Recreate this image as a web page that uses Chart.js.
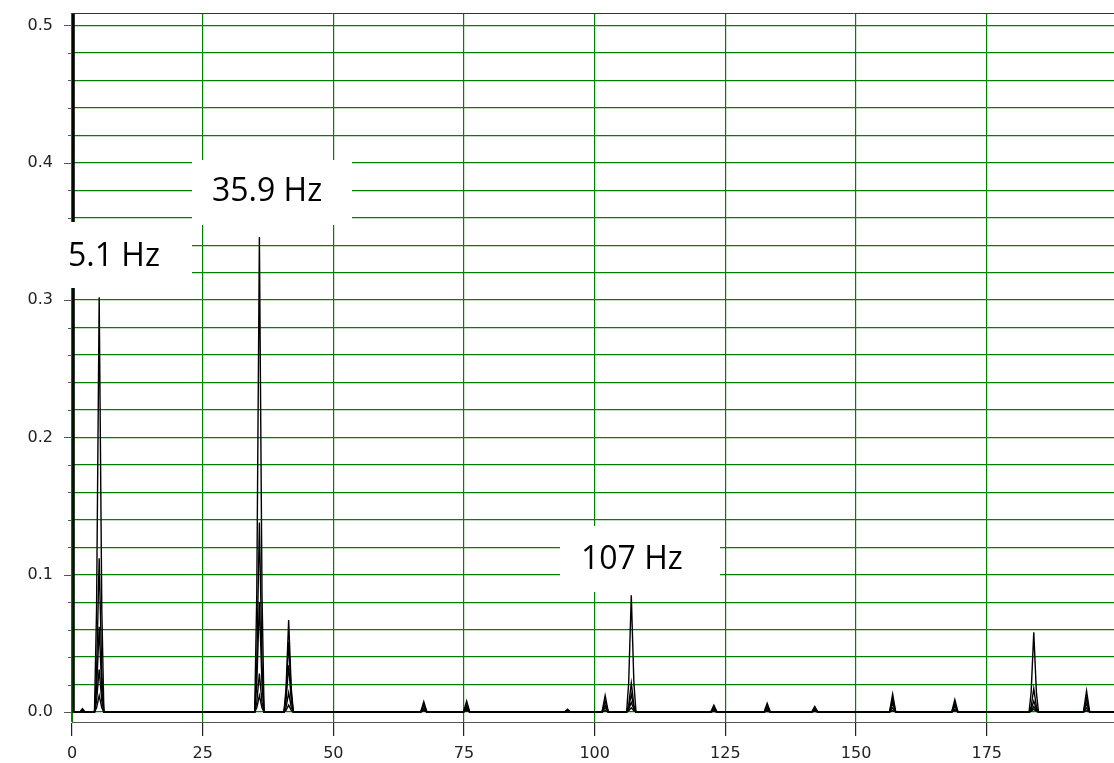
<!DOCTYPE html>
<html>
<head>
<meta charset="utf-8">
<script src="https://cdn.jsdelivr.net/npm/chart.js@4.4.1/dist/chart.umd.min.js"></script>
<style>
  html, body { margin: 0; padding: 0; background: #fff; }
  #wrap { width: 1114px; height: 763px; position: relative; }
</style>
</head>
<body>
<div id="wrap"><canvas id="spec"></canvas></div>
<script>
// frequency points (Hz), shared by every trace
const freqs = [
  0.2, 0.3, 1.5, 2.0, 2.5,
  4.3, 4.7, 5.2, 5.7, 6.1,
  34.95, 35.35, 35.85, 36.35, 36.75,
  40.55, 40.95, 41.45, 41.95, 42.35,
  66.7, 67.3, 67.9,
  74.9, 75.5, 76.1,
  94.2, 94.8, 95.4,
  101.4, 102.0, 102.6,
  106.1, 106.5, 107.0, 107.5, 107.9,
  122.2, 122.8, 123.4,
  132.4, 133.0, 133.6,
  141.5, 142.1, 142.7,
  156.4, 157.0, 157.6,
  168.3, 168.9, 169.5,
  183.1, 183.5, 184.0, 184.5, 184.9,
  193.5, 194.1, 194.7,
  199.4
];

// amplitude of each trace at the points above
const trace1 = [
  0.9, 0, 0, 0.0025, 0,
  0, 0.075, 0.302, 0.075, 0,
  0, 0.086, 0.346, 0.086, 0,
  0, 0.017, 0.067, 0.017, 0,
  0, 0.0075, 0,
  0, 0.008, 0,
  0, 0.002, 0,
  0, 0.012, 0,
  0, 0.021, 0.085, 0.021, 0,
  0, 0.005, 0,
  0, 0.0063, 0,
  0, 0.004, 0,
  0, 0.013, 0,
  0, 0.009, 0,
  0, 0.0145, 0.058, 0.0145, 0,
  0, 0.0155, 0,
  0
];
const trace2 = [
  0.9, 0, 0, 0.001, 0,
  0, 0.028, 0.112, 0.028, 0,
  0, 0.035, 0.138, 0.035, 0,
  0, 0.013, 0.051, 0.013, 0,
  0, 0.005, 0,
  0, 0.005, 0,
  0, 0.001, 0,
  0, 0.008, 0,
  0, 0.005, 0.021, 0.005, 0,
  0, 0.0035, 0,
  0, 0.004, 0,
  0, 0.0025, 0,
  0, 0.009, 0,
  0, 0.006, 0,
  0, 0.004, 0.017, 0.004, 0,
  0, 0.01, 0,
  0
];
const trace3 = [
  0.9, 0, 0, 0.001, 0,
  0, 0.016, 0.062, 0.016, 0,
  0, 0.02, 0.08, 0.02, 0,
  0, 0.0085, 0.034, 0.0085, 0,
  0, 0.003, 0,
  0, 0.003, 0,
  0, 0.001, 0,
  0, 0.005, 0,
  0, 0.003, 0.013, 0.003, 0,
  0, 0.002, 0,
  0, 0.0025, 0,
  0, 0.0015, 0,
  0, 0.006, 0,
  0, 0.004, 0,
  0, 0.002, 0.008, 0.002, 0,
  0, 0.006, 0,
  0
];
const trace4 = [
  0.9, 0, 0, 0, 0,
  0, 0.008, 0.031, 0.008, 0,
  0, 0.007, 0.028, 0.007, 0,
  0, 0.0035, 0.014, 0.0035, 0,
  0, 0.0015, 0,
  0, 0.002, 0,
  0, 0, 0,
  0, 0.003, 0,
  0, 0.002, 0.007, 0.002, 0,
  0, 0.001, 0,
  0, 0.0012, 0,
  0, 0.001, 0,
  0, 0.003, 0,
  0, 0.002, 0,
  0, 0.001, 0.004, 0.001, 0,
  0, 0.003, 0,
  0
];
const trace5 = [
  0.9, 0, 0, 0, 0,
  0, 0.003, 0.012, 0.003, 0,
  0, 0.003, 0.012, 0.003, 0,
  0, 0.0013, 0.005, 0.0013, 0,
  0, 0.001, 0,
  0, 0.001, 0,
  0, 0, 0,
  0, 0.001, 0,
  0, 0.001, 0.003, 0.001, 0,
  0, 0.0005, 0,
  0, 0.0005, 0,
  0, 0.0005, 0,
  0, 0.001, 0,
  0, 0.001, 0,
  0, 0.0005, 0.002, 0.0005, 0,
  0, 0.001, 0,
  0
];
const traces = [trace1, trace2, trace3, trace4, trace5];

// axis ticks
const xTicks = [0, 25, 50, 75, 100, 125, 150, 175];
const yGrid = [0, 0.02, 0.04, 0.06, 0.08, 0.1, 0.12, 0.14, 0.16, 0.18, 0.2,
  0.22, 0.24, 0.26, 0.28, 0.3, 0.32, 0.34, 0.36, 0.38, 0.4,
  0.42, 0.44, 0.46, 0.48, 0.5];
const yLabels = [0, 0.1, 0.2, 0.3, 0.4, 0.5];

// peak call-outs (box and text anchor in data units)
const notes = [
  { text: '5.1 Hz', x0: -2.3, x1: 22.96, y0: 0.3569, y1: 0.3088, tx: -0.77, ty: 0.3314 },
  { text: '35.9 Hz', x0: 22.96, x1: 53.57, y0: 0.4020, y1: 0.3547, tx: 26.78, ty: 0.3787 },
  { text: '107 Hz', x0: 93.36, x1: 123.97, y0: 0.1355, y1: 0.0874, tx: 97.38, ty: 0.1107 }
];

const GREEN = '#008000';
const AXIS_FONT = { family: '"DejaVu Sans", sans-serif', size: 16 };

const isMajor = v => yLabels.some(l => Math.abs(l - v) < 1e-6);

const frameAndNotes = {
  id: 'frameAndNotes',
  beforeDatasetsDraw(chart) {
    // y tick marks: long at labelled values, short in between
    const { ctx, scales } = chart;
    ctx.save();
    ctx.strokeStyle = '#555';
    ctx.lineWidth = 1;
    yGrid.forEach(v => {
      const y = Math.round(scales.y.getPixelForValue(v)) + 0.5;
      const len = isMajor(v) ? 8 : 4;
      ctx.beginPath();
      ctx.moveTo(scales.y.right - len, y);
      ctx.lineTo(scales.y.right, y);
      ctx.stroke();
    });
    ctx.restore();
  },
  afterDraw(chart) {
    const { ctx, chartArea, scales } = chart;
    ctx.save();
    // top frame line
    ctx.strokeStyle = '#333';
    ctx.lineWidth = 1;
    ctx.beginPath();
    ctx.moveTo(chartArea.left, Math.round(chartArea.top) + 0.5);
    ctx.lineTo(chartArea.right, Math.round(chartArea.top) + 0.5);
    ctx.stroke();

    notes.forEach(n => {
      const left = scales.x.getPixelForValue(n.x0);
      const right = scales.x.getPixelForValue(n.x1);
      const top = scales.y.getPixelForValue(n.y0);
      const bottom = scales.y.getPixelForValue(n.y1);
      ctx.fillStyle = '#fff';
      ctx.fillRect(left, top, right - left, bottom - top);
      ctx.fillStyle = '#000';
      ctx.font = '32px "Open Sans", "Noto Sans", sans-serif';
      ctx.textAlign = 'left';
      ctx.textBaseline = 'middle';
      ctx.fillText(n.text, scales.x.getPixelForValue(n.tx), scales.y.getPixelForValue(n.ty));
    });
    ctx.restore();
  }
};

new Chart(document.getElementById('spec'), {
  type: 'line',
  data: {
    datasets: traces.map((t, k) => ({
      label: 'trace ' + (k + 1),
      data: freqs.map((f, i) => ({ x: f, y: t[i] })),
      borderColor: '#000',
      borderWidth: 1.4,
      pointRadius: 0,
      tension: 0,
      fill: false
    }))
  },
  options: {
    responsive: true,
    maintainAspectRatio: false,
    animation: false,
    layout: { padding: { top: 13, right: 0, left: 0, bottom: 0 } },
    plugins: {
      legend: { display: false },
      tooltip: { enabled: false }
    },
    scales: {
      x: {
        type: 'linear',
        min: 0,
        max: 199.35,
        afterBuildTicks: s => { s.ticks = xTicks.map(v => ({ value: v })); },
        afterFit: s => { s.height = 41; s.paddingLeft = 0; s.paddingRight = 0; },
        ticks: { color: '#222', font: AXIS_FONT, padding: 8, maxRotation: 0, autoSkip: false },
        grid: { color: GREEN, lineWidth: 1.2, tickColor: '#222', tickLength: 14 },
        border: { color: '#555', width: 1 }
      },
      y: {
        min: -0.00728,
        max: 0.5091,
        afterBuildTicks: s => { s.ticks = yGrid.map(v => ({ value: v })); },
        afterFit: s => { s.width = 72; s.paddingTop = 0; s.paddingBottom = 0; },
        ticks: {
          color: '#222',
          font: AXIS_FONT,
          padding: 11,
          autoSkip: false,
          callback: v => isMajor(v) ? v.toFixed(1) : ''
        },
        grid: { color: GREEN, lineWidth: 1.2, drawTicks: true, tickColor: 'rgba(0,0,0,0)', tickLength: 8 },
        border: { color: GREEN, width: 1 }
      }
    }
  },
  plugins: [frameAndNotes]
});
</script>
</body>
</html>
